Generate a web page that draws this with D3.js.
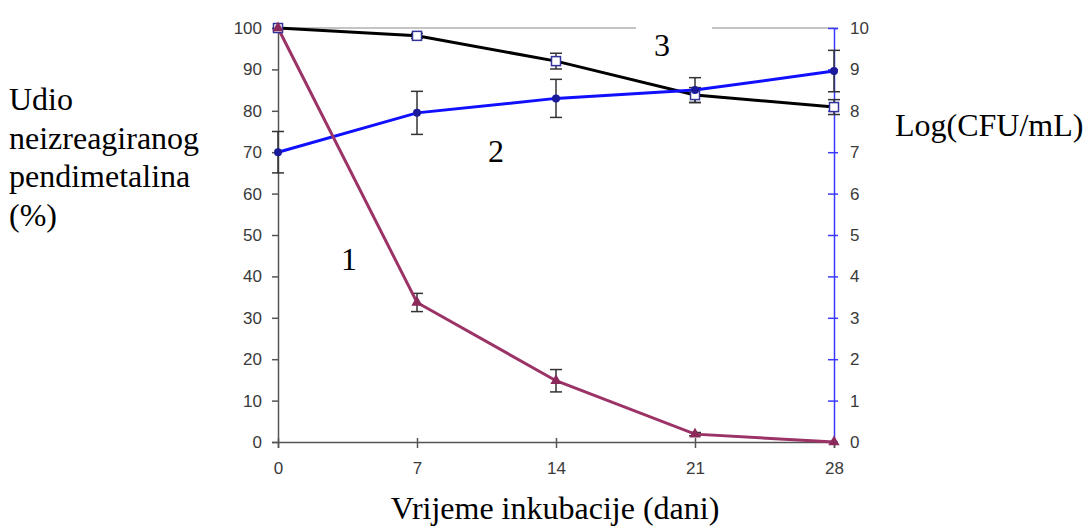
<!DOCTYPE html>
<html><head><meta charset="utf-8">
<script src="https://cdn.jsdelivr.net/npm/d3@7"></script>
<style>
body{margin:0;background:#fff;}
svg{display:block;}
</style></head>
<body>
<svg id="chart" width="1083" height="530"></svg>
<script>
const days = [0, 7, 14, 21, 28];
const xTickLabels = ["0", "7", "14", "21", "28"];
const leftTicks = [0,10,20,30,40,50,60,70,80,90,100];
const rightTicks = [0,1,2,3,4,5,6,7,8,9,10];
// series 1: unreacted pendimethalin (%)
const s1 = [100, 33.7, 14.8, 1.9, 0];
const s1Err = [0, 2.2, 2.7, 0.4, 0];
// series 2: Log(CFU/mL) (right axis)
const s2 = [7.0, 7.95, 8.3, 8.5, 8.96];
const s2Err = [0.5, 0.52, 0.46, 0.3, 0.5];
// series 3 (left axis)
const s3 = [100, 98.1, 92, 83.8, 80.9];
const s3Err = [0, 0.6, 1.9, 1.8, 1.8];

const svg = d3.select("#chart");
const x = d3.scaleLinear().domain([0, 28]).range([278, 834]);
const yL = d3.scaleLinear().domain([0, 100]).range([442, 28]);
const yR = d3.scaleLinear().domain([0, 10]).range([442, 28]);

const tickFont = "Arial, 'Liberation Sans', sans-serif";
const serif = "'Times New Roman', 'Liberation Serif', serif";

// top gray line
svg.append("line").attr("x1", x(0)).attr("x2", x(28)).attr("y1", yL(100)).attr("y2", yL(100))
  .attr("stroke", "#b0b0b0").attr("stroke-width", 1.5);

// left axis
const gL = svg.append("g").attr("transform", `translate(${x(0)},0)`)
  .call(d3.axisLeft(yL).tickValues(leftTicks).tickSize(6).tickPadding(10));
gL.select(".domain").attr("stroke", "#555").attr("stroke-width", 1.5);
gL.selectAll(".tick line").attr("stroke", "#555").attr("stroke-width", 1.5);
gL.selectAll("text").attr("font-family", tickFont).attr("font-size", 17).attr("fill", "#3a3a3a");

// bottom axis
const gB = svg.append("g").attr("transform", `translate(0,${yL(0)})`)
  .call(d3.axisBottom(x).tickValues(days).tickFormat((d, i) => xTickLabels[i]).tickSize(6).tickPadding(14));
gB.select(".domain").attr("stroke", "#555").attr("stroke-width", 1.5);
gB.selectAll(".tick line").attr("stroke", "#555").attr("stroke-width", 1.5).attr("y1", -4);
gB.selectAll("text").attr("font-family", tickFont).attr("font-size", 17).attr("fill", "#3a3a3a");

// right axis (blue)
const gR = svg.append("g").attr("transform", `translate(${x(28)},0)`)
  .call(d3.axisRight(yR).tickValues(rightTicks).tickSize(4).tickPadding(12));
gR.select(".domain").attr("stroke", "#3a3aff").attr("stroke-width", 1.5);
gR.selectAll(".tick line").attr("stroke", "#3a3aff").attr("stroke-width", 1.5).attr("x1", -6);
gR.selectAll("text").attr("font-family", tickFont).attr("font-size", 17).attr("fill", "#3a3a3a");

function errorBars(vals, errs, yS) {
  const g = svg.append("g");
  vals.forEach((v, i) => {
    if (!errs[i]) return;
    const cx = x(days[i]);
    const top = yS(v + errs[i]), bot = yS(v - errs[i]);
    g.append("line").attr("x1", cx).attr("x2", cx).attr("y1", top).attr("y2", bot)
      .attr("stroke", "#333").attr("stroke-width", 1.5);
    [top, bot].forEach(yy => g.append("line").attr("x1", cx - 6).attr("x2", cx + 6)
      .attr("y1", yy).attr("y2", yy).attr("stroke", "#333").attr("stroke-width", 1.5));
  });
}

errorBars(s2, s2Err, yR);
errorBars(s3, s3Err, yL);
errorBars(s1, s1Err, yL);

const lineL = d3.line().x((d, i) => x(days[i])).y(d => yL(d));
const lineR = d3.line().x((d, i) => x(days[i])).y(d => yR(d));

// series 3 black
svg.append("path").datum(s3).attr("d", lineL).attr("fill", "none")
  .attr("stroke", "#000").attr("stroke-width", 3);
// series 2 blue
svg.append("path").datum(s2).attr("d", lineR).attr("fill", "none")
  .attr("stroke", "#1010ff").attr("stroke-width", 3);
// series 1 maroon
svg.append("path").datum(s1).attr("d", lineL).attr("fill", "none")
  .attr("stroke", "#9b3366").attr("stroke-width", 3);

// markers
svg.append("g").selectAll("rect").data(s3).join("rect")
  .attr("x", (d, i) => x(days[i]) - 4.5).attr("y", d => yL(d) - 4.5)
  .attr("width", 9).attr("height", 9).attr("fill", "#fff")
  .attr("stroke", "#33339a").attr("stroke-width", 1.5);
svg.append("g").selectAll("circle").data(s2).join("circle")
  .attr("cx", (d, i) => x(days[i])).attr("cy", d => yR(d)).attr("r", 4)
  .attr("fill", "#1a1a9a");
const tri = d3.symbol().type(d3.symbolTriangle).size(55);
svg.append("g").selectAll("path").data(s1).join("path")
  .attr("d", tri).attr("transform", (d, i) => `translate(${x(days[i])},${yL(d)})`)
  .attr("fill", "#8b2a5a");

// series number labels
svg.append("rect").attr("x", 636).attr("y", 22).attr("width", 76).attr("height", 14).attr("fill", "#fff");
const labels = [["1", 341, 270], ["2", 488, 162], ["3", 654, 56]];
labels.forEach(([t, lx, ly]) => svg.append("text").attr("x", lx).attr("y", ly)
  .attr("font-family", serif).attr("font-size", 32).attr("fill", "#000").text(t));

// axis titles
const leftTitle = ["Udio", "neizreagiranog", "pendimetalina", "(%)"];
leftTitle.forEach((t, i) => svg.append("text").attr("x", 9).attr("y", 110 + i * 38.5)
  .attr("font-family", serif).attr("font-size", 32).attr("fill", "#000").text(t));
svg.append("text").attr("x", 895).attr("y", 136)
  .attr("font-family", serif).attr("font-size", 32).attr("fill", "#000").text("Log(CFU/mL)");
svg.append("text").attr("x", 555).attr("y", 519).attr("text-anchor", "middle")
  .attr("font-family", serif).attr("font-size", 32).attr("fill", "#000").text("Vrijeme inkubacije (dani)");
</script>
</body></html>
